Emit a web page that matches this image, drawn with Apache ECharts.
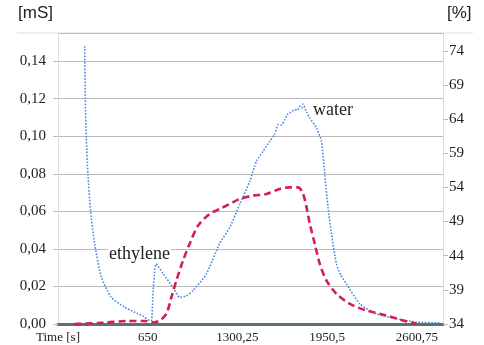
<!DOCTYPE html>
<html style="height: 100%">
    <head>
        <meta charset="utf-8">
    </head>
    <body style="height: 100%; margin: 0; background: #fff">
        <div id="container" style="height: 100%"></div>

        <script type="text/javascript" src="https://cdn.jsdelivr.net/npm/echarts@6/dist/echarts.min.js"></script>

        <script type="text/javascript">
var dom = document.getElementById("container");
var myChart = echarts.init(dom);

// conductivity [mS] - blue dotted, left axis
var blueTime = [193, 198, 205, 217, 236, 265, 314, 386, 483, 555, 620, 664, 677, 690, 711, 760, 833, 882, 930, 978, 1075, 1172, 1244, 1317, 1390, 1440, 1486, 1534, 1570, 1595, 1620, 1643, 1660, 1679, 1700, 1716, 1735, 1752, 1765, 1776, 1800, 1825, 1873, 1909, 1933, 1957, 1982, 2018, 2050, 2091, 2187, 2308, 2453, 2598, 2767];
var blueValues = [0.148, 0.120, 0.099, 0.080, 0.060, 0.043, 0.025, 0.0142, 0.0089, 0.0063, 0.004, 0.0019, 0.0019, 0.018, 0.032, 0.027, 0.0195, 0.0142, 0.015, 0.0178, 0.0266, 0.043, 0.0514, 0.0638, 0.0761, 0.087, 0.092, 0.0973, 0.101, 0.1062, 0.106, 0.1089, 0.1115, 0.1124, 0.1135, 0.1142, 0.1138, 0.1159, 0.115, 0.1171, 0.113, 0.1097, 0.1044, 0.0973, 0.0797, 0.062, 0.0479, 0.0319, 0.026, 0.0213, 0.0107, 0.0054, 0.0028, 0.001, 0.0006];

// [%] - red dashed, right axis
var redTime = [120, 157, 338, 507, 628, 700, 737, 785, 822, 858, 906, 954, 1015, 1099, 1172, 1244, 1317, 1413, 1510, 1607, 1679, 1740, 1776, 1801, 1825, 1861, 1897, 1946, 2018, 2115, 2236, 2381, 2501, 2598];
var redValues = [34.0, 34.03, 34.2, 34.45, 34.45, 34.26, 34.51, 35.49, 37.92, 40.36, 43.28, 45.73, 48.4, 50.11, 50.84, 51.57, 52.3, 52.79, 53.03, 53.77, 54.0, 54.0, 53.03, 51.07, 48.65, 45.73, 42.8, 40.36, 38.42, 36.95, 35.97, 35.24, 34.51, 34.03];

var xTickLabels = ['Time [s]', '650', '1300,25', '1950,5', '2600,75'];

function pairs(xs, ys) {
  return xs.map(function (x, i) { return [x, ys[i]]; });
}

var serif = 'Liberation Serif';
var sans = 'Liberation Sans';

var option = {
  animation: false,
  grid: { left: 58, right: 41, top: 33, bottom: 21 },
  xAxis: {
    type: 'value',
    min: 0,
    max: 2790,
    interval: 650.25,
    axisLine: { lineStyle: { color: '#5d7267', width: 3 } },
    axisTick: { show: false },
    splitLine: { show: false },
    axisLabel: {
      showMaxLabel: false,
      margin: 7,
      color: '#222',
      fontFamily: serif,
      fontSize: 13,
      formatter: function (v) {
        var i = Math.round(v / 650.25);
        return Math.abs(v - i * 650.25) < 1 ? (xTickLabels[i] || '') : '';
      }
    }
  },
  yAxis: [
    {
      type: 'value',
      min: 0,
      max: 0.155,
      interval: 0.02,
      name: '[mS]',
      nameGap: 11,
      nameTextStyle: { fontFamily: sans, fontSize: 17, color: '#222', align: 'right', padding: [0, 5, 0, 0] },
      axisLine: { show: true, lineStyle: { color: '#ddd' } },
      axisTick: { show: true, length: 5, lineStyle: { color: '#bbb' } },
      splitLine: { lineStyle: { color: '#bbb' } },
      axisLabel: {
        showMaxLabel: false,
        margin: 12,
        color: '#222',
        fontFamily: serif,
        fontSize: 15,
        formatter: function (v) { return v.toFixed(2).replace('.', ','); }
      }
    },
    {
      type: 'value',
      min: 34,
      max: 76.6,
      interval: 5,
      name: '[%]',
      nameGap: 11,
      nameTextStyle: { fontFamily: sans, fontSize: 17, color: '#222', align: 'left', padding: [0, 0, 0, 4] },
      axisLine: { show: true, lineStyle: { color: '#ddd' } },
      axisTick: { show: true, length: 5, lineStyle: { color: '#bbb' } },
      splitLine: { show: false },
      axisLabel: {
        showMaxLabel: false,
        margin: 6,
        color: '#222',
        fontFamily: serif,
        fontSize: 15
      }
    }
  ],
  graphic: [
    { type: 'line', shape: { x1: 17, y1: 33, x2: 473, y2: 33 }, style: { stroke: '#ddd', lineWidth: 1 } },
    { type: 'text', left: 108, top: 244, z: 10, style: { text: 'ethylene', fontFamily: serif, fontSize: 18, fill: '#222', backgroundColor: '#fff', padding: [1, 1, 0, 1] } },
    { type: 'text', left: 312, top: 100, z: 10, style: { text: 'water', fontFamily: serif, fontSize: 18, fill: '#222', backgroundColor: '#fff', padding: [1, 1, 0, 1] } }
  ],
  series: [
    {
      type: 'line',
      yAxisIndex: 0,
      data: pairs(blueTime, blueValues),
      showSymbol: false,
      smooth: 0.2,
      lineStyle: { color: '#4a86e8', width: 1.6, type: 'dotted' },
      z: 3
    },
    {
      type: 'line',
      yAxisIndex: 1,
      data: pairs(redTime, redValues),
      showSymbol: false,
      smooth: 0.3,
      lineStyle: { color: '#d21f55', width: 2.6, type: [7, 4] },
      z: 4
    }
  ]
};

myChart.setOption(option);
        </script>
    </body>
</html>
